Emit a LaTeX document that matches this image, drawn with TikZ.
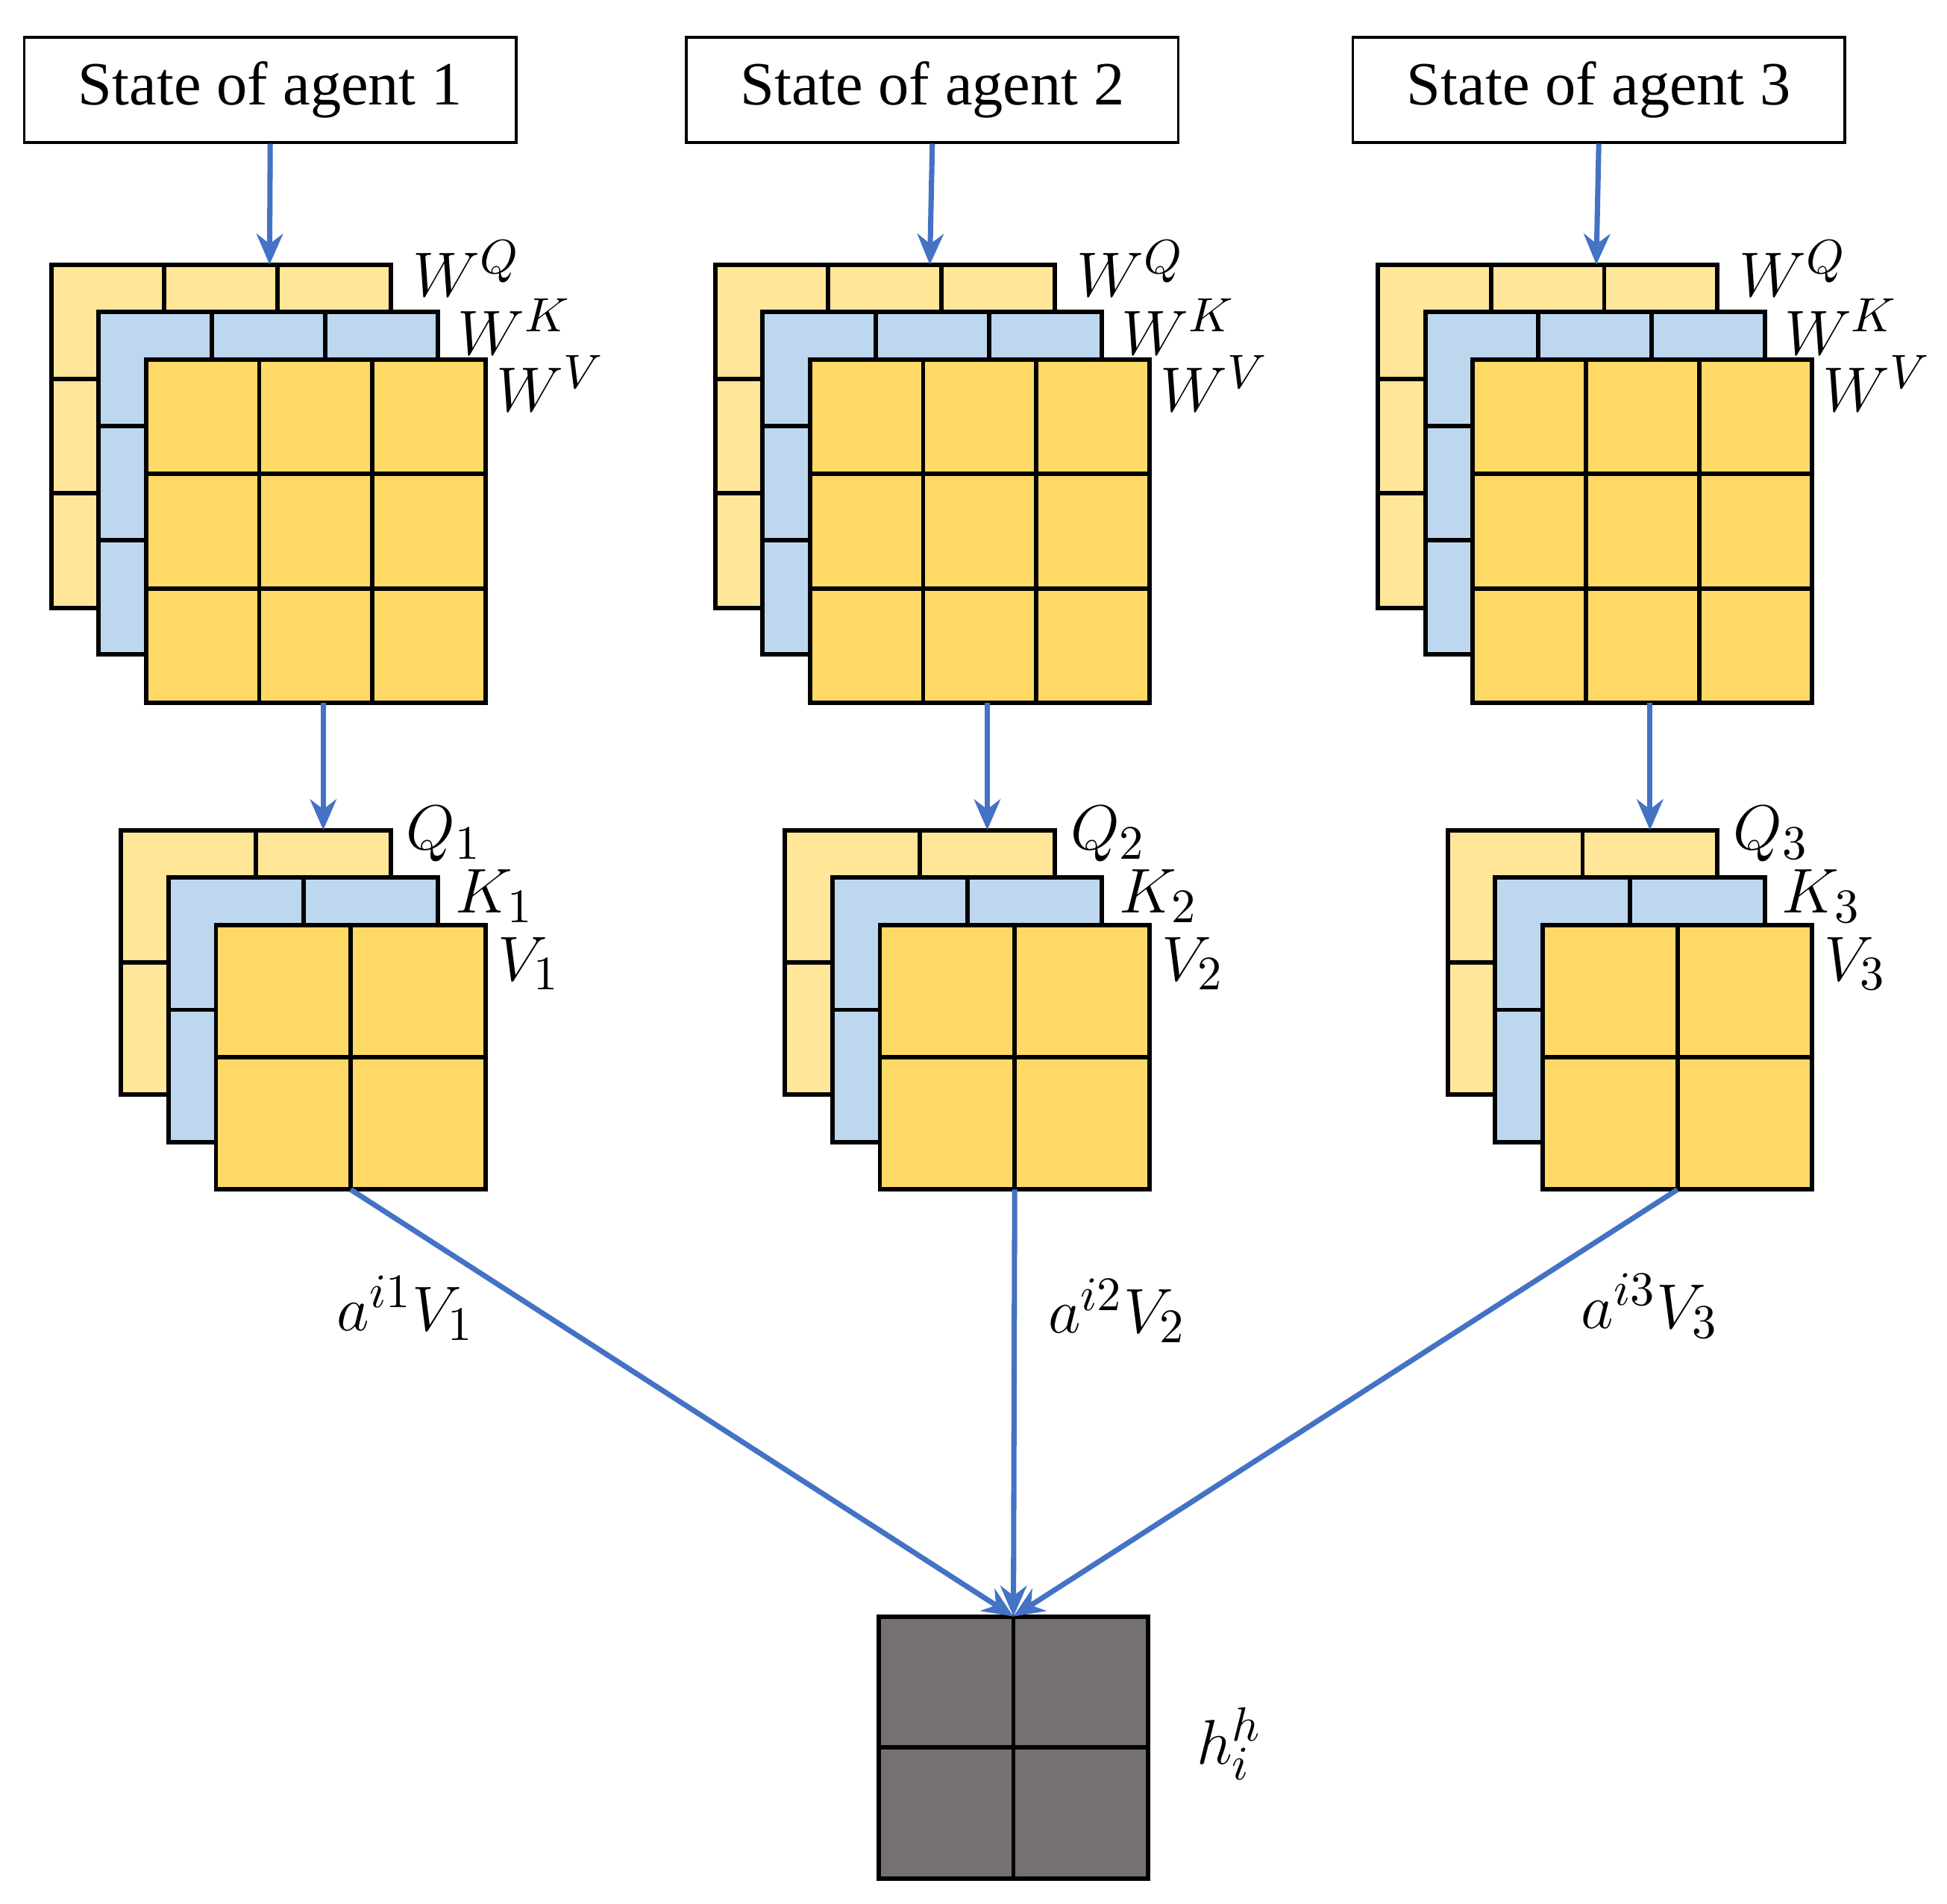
\documentclass[tikz,border=0pt]{standalone}
\usepackage{fontspec}
\setmainfont{Liberation Serif}
\usetikzlibrary{arrows.meta}
\definecolor{ly}{HTML}{FFE699}
\definecolor{lb}{HTML}{BDD7EE}
\definecolor{yy}{HTML}{FFD966}
\definecolor{ar}{HTML}{4472C4}
\definecolor{gr}{HTML}{767171}
\tikzset{
  box/.style={draw,line width=0.6pt,minimum width=3.94cm,minimum height=0.84cm,inner sep=0pt,font=\fontsize{14}{16}\selectfont},
  arr/.style={draw=ar,line width=1.2pt,-{Stealth[length=7pt,width=6pt]}},
  lab/.style={font=\fontsize{15}{18}\selectfont,inner sep=0pt},
}
\newcommand{\mgrid}[6]{% x y w h n color
  \fill[#6] (#1,#2) rectangle ++(#3,#4);
  \foreach \i in {1,...,#5}{\draw[line width=1pt] ({#1+#3*\i/#5},#2) -- ++(0,#4);
                           \draw[line width=1pt] (#1,{#2+#4*\i/#5}) -- ++(#3,0);}
  \draw[line width=1pt] (#1,#2) rectangle ++(#3,#4);}
\begin{document}
\begin{tikzpicture}[x=0.01cm,y=-0.01cm]
\useasboundingbox (0,0) rectangle (1560,1525);
\foreach \k/\dx in {1/0,2/532,3/1063}{
  \begin{scope}[xshift=\dx*0.01cm]
  \mgrid{41}{212}{272}{275}{3}{ly}
  \mgrid{79}{250}{272}{274}{3}{lb}
  \mgrid{117}{288}{272}{275}{3}{yy}
  \node[minimum width=2.72cm,minimum height=2.75cm] (W\k) at (253,425.5) {};
  \mgrid{97}{665}{216}{212}{2}{ly}
  \mgrid{135}{703}{216}{212}{2}{lb}
  \mgrid{173}{741}{216}{212}{2}{yy}
  \node[minimum width=2.16cm,minimum height=2.12cm] (S\k) at (281,847) {};
  \node[lab,anchor=west] at (330,215) {$W^{Q}$};
  \node[lab,anchor=west] at (366,262) {$W^{K}$};
  \node[lab,anchor=west] at (397,307) {$W^{V}$};
  \node[lab,anchor=west] at (325,668) {$Q_{\k}$};
  \node[lab,anchor=west] at (364,718) {$K_{\k}$};
  \node[lab,anchor=west] at (398,772) {$V_{\k}$};
  \coordinate (wt\k) at (216,212);
  \coordinate (st\k) at (259,665);
  \coordinate (wb\k) at (259,563);
  \coordinate (sb\k) at (281,953);
  \end{scope}}
\node[box] (A1) at (216.5,72) {State of agent 1};
\node[box] (A2) at (747,72) {State of agent 2};
\node[box] (A3) at (1281,72) {State of agent 3};
\draw[arr] (A1.south) -- (wt1);
\draw[arr] (A2.south) -- (745,212);
\draw[arr] (A3.south) -- (wt3);
\foreach \k in {1,2,3}{\draw[arr] (wb\k) -- (st\k);}
\mgrid{704}{1295}{216}{210}{2}{gr}
\node[minimum width=2.16cm,minimum height=2.1cm] (H) at (812,1400) {};
\coordinate (ht) at (812,1295);
\draw[arr] (sb1) -- (ht);
\draw[arr] (813,953) -- (ht);
\draw[arr] (sb3) -- (ht);
\node[lab] at (325,1048) {$a^{i1}V_1$};
\node[lab] at (895,1050) {$a^{i2}V_2$};
\node[lab] at (1322,1046) {$a^{i3}V_3$};
\node[lab] at (985,1397) {$h_i^h$};
\end{tikzpicture}
\end{document}
